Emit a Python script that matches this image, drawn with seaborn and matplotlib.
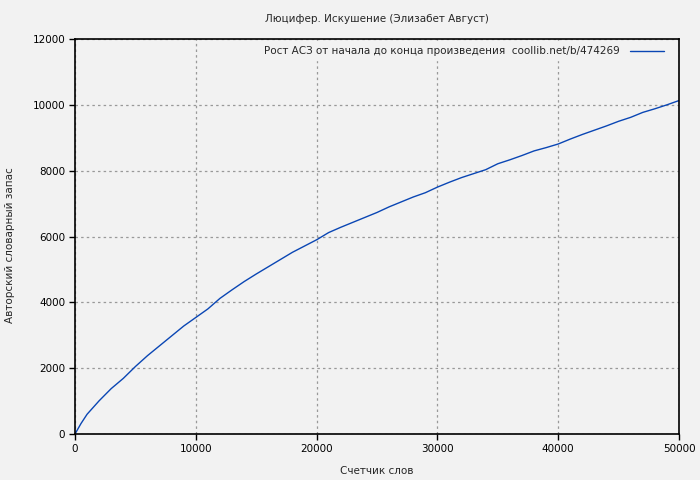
import matplotlib
matplotlib.use("Agg")
import matplotlib.pyplot as plt
import seaborn as sns
import pandas as pd

title = "Люцифер. Искушение (Элизабет Август)"
xlabel = "Счетчик слов"
ylabel = "Авторский словарный запас"
legend_label = "Рост АСЗ от начала до конца произведения  coollib.net/b/474269"

words = [0, 500, 1000, 2000, 3000, 4000, 5000, 6000, 7000, 8000, 9000, 10000,
         11000, 12000, 13000, 14000, 15000, 16000, 17000, 18000, 19000, 20000,
         21000, 22000, 23000, 24000, 25000, 26000, 27000, 28000, 29000, 30000,
         31000, 32000, 33000, 34000, 35000, 36000, 37000, 38000, 39000, 40000,
         41000, 42000, 43000, 44000, 45000, 46000, 47000, 48000, 49000, 50000]
vocab = [0, 320, 600, 1010, 1380, 1690, 2050, 2380, 2680, 2980, 3280, 3540,
         3800, 4120, 4380, 4630, 4860, 5080, 5300, 5520, 5710, 5900,
         6120, 6280, 6430, 6580, 6730, 6900, 7050, 7200, 7330, 7500,
         7650, 7790, 7910, 8030, 8210, 8330, 8460, 8600, 8700, 8810,
         8960, 9100, 9230, 9360, 9500, 9620, 9770, 9880, 10000, 10130]

xticks = [0, 10000, 20000, 30000, 40000, 50000]
yticks = [0, 2000, 4000, 6000, 8000, 10000, 12000]

df = pd.DataFrame({"x": words, "y": vocab})

sns.set_theme(style="ticks")
plt.rcParams["font.family"] = ["DejaVu Sans"]
bg = "#f2f2f2"
fig = plt.figure(figsize=(7, 4.8), dpi=100, facecolor=bg)
ax = fig.add_axes([75/700, 1-434/480, (679-75)/700, (434-39)/480])
ax.set_facecolor(bg)

sns.lineplot(data=df, x="x", y="y", ax=ax, color="#0a46b4", linewidth=1,
             label=legend_label)

ax.set_xlim(0, 50000)
ax.set_ylim(0, 12000)
ax.set_xticks(xticks)
ax.set_yticks(yticks)
ax.set_xticklabels([str(v) for v in xticks])
ax.set_yticklabels([str(v) for v in yticks])
ax.tick_params(direction="out", length=4, width=1, colors="black",
               labelsize=7.5, pad=3)
for s in ax.spines.values():
    s.set_visible(True)
    s.set_color("black")
    s.set_linewidth(1.2)
ax.grid(True, color="#999999", linestyle=(0, (2, 2.5)), linewidth=0.9)
ax.set_axisbelow(True)

ax.set_title(title, fontsize=7.5, pad=12)
ax.set_xlabel(xlabel, fontsize=7.5, labelpad=9)
ax.set_ylabel(ylabel, fontsize=7.5, labelpad=8)
ax.yaxis.set_label_coords(-0.1, 0.478)

leg = ax.legend(loc="upper right", bbox_to_anchor=(1 - 8/604, 1.0),
                frameon=True, fontsize=7.5, markerfirst=False,
                handlelength=3.2, handletextpad=1.0, borderaxespad=0.3,
                fancybox=False)
leg.get_frame().set_facecolor(bg)
leg.get_frame().set_edgecolor(bg)
leg.get_frame().set_alpha(1)

fig.savefig("out.png", dpi=100, facecolor=bg)
